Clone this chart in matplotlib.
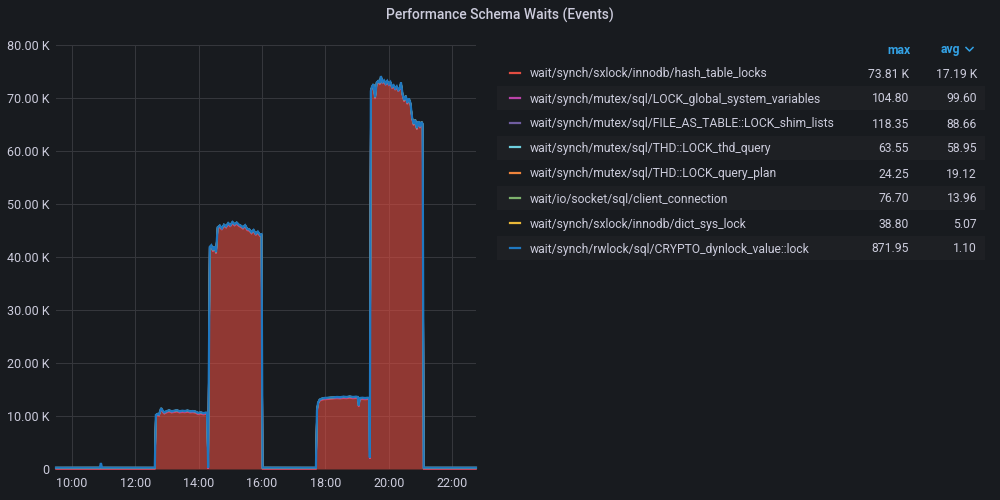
import matplotlib
matplotlib.use('Agg')
import matplotlib.pyplot as plt
import matplotlib.dates as mdates
from matplotlib.ticker import FuncFormatter, MultipleLocator
from matplotlib.lines import Line2D
from matplotlib.patches import Rectangle
import numpy as np
import pandas as pd

plt.rcParams['font.family'] = ['Roboto', 'DejaVu Sans']

# ---------------- data ----------------
times = [
    "09:30", "10:53", "10:55", "10:57", "12:37",
    "12:39", "12:42", "12:45", "12:49", "12:52", "12:55", "12:59", "13:04", "13:09", "13:14",
    "13:19", "13:24", "13:29", "13:34", "13:39", "13:44", "13:49", "13:54", "13:59", "14:04",
    "14:09", "14:14", "14:16",
    "14:18",
    "14:21", "14:24", "14:27", "14:30", "14:33", "14:36", "14:40", "14:44", "14:48", "14:52",
    "14:56", "15:00", "15:04", "15:08", "15:12", "15:16", "15:20", "15:24", "15:28", "15:32",
    "15:36", "15:40", "15:44", "15:48", "15:52", "15:56", "15:59",
    "16:01", "17:42",
    "17:44", "17:46", "17:49", "17:53", "17:58", "18:04", "18:10", "18:16", "18:22", "18:28",
    "18:34", "18:40", "18:46", "18:52", "18:58", "19:01", "19:03", "19:05", "19:10", "19:15",
    "19:20", "19:23",
    "19:24",
    "19:26", "19:28", "19:31", "19:34", "19:37", "19:40", "19:43", "19:45", "19:48", "19:51",
    "19:54", "19:57", "20:00", "20:03", "20:06", "20:09", "20:12", "20:15", "20:18", "20:21",
    "20:23", "20:26", "20:29", "20:32", "20:35", "20:38", "20:41", "20:44", "20:47", "20:50",
    "20:53", "20:56", "20:59", "21:02", "21:04",
    "21:06", "22:45",
]

hash_table_locks = (
    [0, 0, 0, 0, 0]
    + [9900, 10100, 10000, 11200, 10700, 10400, 10600, 10800, 10600, 10700,
       10800, 10600, 10700, 10650, 10750, 10600, 10650, 10550, 10300, 10400,
       10250, 10350, 10300]
    + [0]
    + [41500, 41900, 41000, 41700, 40600, 45300, 45600, 45100, 45800, 45500,
       46100, 45700, 46300, 45900, 46200, 45800, 45600, 45300, 45700, 45000,
       44900, 44400, 44800, 44100, 44500, 43900, 44000]
    + [0, 0]
    + [10800, 12200, 12800, 13000, 13100, 13150, 13200, 13250, 13300, 13250,
       13350, 13300, 13400, 13300, 13350, 13300, 11700, 13100, 13150, 13100,
       13150, 13100]
    + [1900]
    + [71000, 71800, 72300, 69800, 72600, 72900, 72500, 73810, 72700, 73000,
       72400, 72900, 72300, 72700, 71800, 72100, 71500, 71900, 71200, 71600,
       72600, 70400, 69300, 70100, 68800, 69600, 68700, 66000, 64800, 65600,
       64000, 65300, 64300, 65200, 64800]
    + [0, 0]
)

lock_global_system_variables = (
    [99, 100, 99, 100, 99]
    + [100, 101, 99, 100, 102, 99, 100, 101, 99, 100, 100, 101, 99, 100, 102,
       100, 99, 101, 100, 99, 100, 101, 100]
    + [99]
    + [100, 101, 99, 102, 100, 101, 99, 100, 102, 101, 100, 104.8, 100, 99, 101,
       100, 102, 99, 100, 101, 100, 99, 101, 100, 100, 99, 100]
    + [99, 98]
    + [99, 100, 101, 99, 100, 100, 101, 99, 100, 102, 100, 99, 101, 100, 99,
       100, 101, 100, 99, 100, 101, 100]
    + [99]
    + [100, 101, 99, 102, 100, 101, 103, 100, 99, 101, 100, 102, 100, 99, 101,
       100, 102, 100, 99, 101, 100, 100, 99, 101, 100, 102, 100, 99, 101, 100,
       100, 99, 101, 100, 100]
    + [99, 99]
)

lock_shim_lists = (
    [80, 82, 81, 80, 79]
    + [90, 92, 88, 91, 89, 93, 90, 88, 91, 92, 89, 90, 94, 88, 91, 90, 89, 92,
       90, 88, 91, 90, 89]
    + [85]
    + [95, 97, 94, 96, 98, 95, 118.35, 96, 94, 97, 95, 99, 96, 94, 97, 95, 96,
       98, 94, 95, 97, 96, 94, 95, 97, 96, 95]
    + [84, 80]
    + [88, 90, 87, 89, 91, 88, 90, 87, 89, 92, 88, 90, 89, 87, 91, 89, 88, 90,
       89, 87, 90, 88]
    + [84]
    + [96, 98, 95, 97, 99, 96, 98, 95, 97, 100, 96, 98, 95, 97, 99, 96, 98, 95,
       97, 96, 99, 95, 97, 98, 96, 95, 97, 99, 96, 98, 95, 97, 96, 98, 95]
    + [82, 80]
)

lock_thd_query = (
    [57, 58, 57, 58, 57]
    + [59, 60, 58, 59, 61, 59, 60, 58, 59, 60, 59, 61, 58, 59, 60, 59, 58, 60,
       59, 61, 59, 58, 60]
    + [58]
    + [60, 61, 59, 62, 60, 61, 63.55, 60, 59, 61, 60, 62, 60, 59, 61, 60, 62, 59,
       60, 61, 60, 59, 61, 60, 62, 60, 59]
    + [58, 57]
    + [59, 60, 58, 59, 61, 59, 60, 58, 59, 60, 61, 59, 58, 60, 59, 60, 58, 59,
       61, 59, 60, 59]
    + [58]
    + [60, 61, 59, 62, 60, 61, 63, 60, 59, 61, 60, 62, 60, 59, 61, 60, 62, 60,
       59, 61, 60, 60, 59, 61, 60, 62, 60, 59, 61, 60, 60, 59, 61, 60, 60]
    + [57, 57]
)

lock_query_plan = (
    [17, 18, 17, 18, 17]
    + [19, 20, 18, 19, 21, 19, 20, 18, 19, 20, 19, 21, 18, 19, 20, 19, 18, 20,
       19, 21, 19, 18, 20]
    + [18]
    + [20, 21, 19, 22, 20, 21, 24.25, 20, 19, 21, 20, 22, 20, 19, 21, 20, 22, 19,
       20, 21, 20, 19, 21, 20, 22, 20, 19]
    + [18, 17]
    + [19, 20, 18, 19, 21, 19, 20, 18, 19, 20, 21, 19, 18, 20, 19, 20, 18, 19,
       21, 19, 20, 19]
    + [18]
    + [20, 21, 19, 22, 20, 21, 23, 20, 19, 21, 20, 22, 20, 19, 21, 20, 22, 20,
       19, 21, 20, 20, 19, 21, 20, 22, 20, 19, 21, 20, 20, 19, 21, 20, 20]
    + [17, 17]
)

client_connection = (
    [2, 3, 2, 3, 2]
    + [18, 22, 20, 19, 23, 21, 20, 22, 19, 21, 20, 23, 21, 19, 22, 20, 21, 19,
       22, 20, 21, 19, 20]
    + [6]
    + [76.7, 24, 22, 25, 23, 24, 26, 22, 25, 23, 24, 22, 25, 23, 24, 26, 22, 24,
       23, 25, 22, 24, 23, 25, 22, 24, 23]
    + [5, 2]
    + [20, 19, 21, 20, 22, 19, 21, 20, 19, 22, 20, 21, 19, 20, 22, 21, 19, 20,
       21, 20, 19, 21]
    + [6]
    + [30, 28, 31, 29, 27, 30, 28, 32, 29, 27, 30, 28, 31, 29, 27, 30, 28, 29,
       31, 27, 30, 28, 29, 31, 28, 27, 30, 29, 28, 31, 29, 27, 30, 28, 29]
    + [3, 2]
)

dict_sys_lock = (
    [1, 1, 1, 1, 1]
    + [6, 7, 5, 6, 8, 6, 7, 5, 6, 7, 6, 8, 5, 6, 7, 6, 5, 7, 6, 8, 6, 5, 7]
    + [2]
    + [38.8, 9, 8, 10, 9, 8, 9, 10, 8, 9, 8, 10, 9, 8, 9, 10, 8, 9, 8, 10, 9, 8,
       9, 10, 8, 9, 8]
    + [2, 1]
    + [6, 7, 5, 6, 8, 6, 7, 5, 6, 7, 8, 6, 5, 7, 6, 7, 5, 6, 8, 6, 7, 6]
    + [2]
    + [11, 10, 12, 11, 10, 12, 11, 13, 10, 11, 12, 10, 11, 12, 10, 11, 13, 10,
       11, 12, 10, 11, 12, 10, 11, 13, 10, 11, 12, 10, 11, 12, 10, 11, 12]
    + [1, 1]
)

crypto_dynlock_value = (
    [0, 0, 871.95, 0, 0]
    + [0, 0, 0, 0, 0, 0, 0, 0, 0, 0, 0, 0, 0, 0, 0, 0, 0, 0, 0, 0, 0, 0, 0]
    + [0]
    + [0, 0, 0, 0, 0, 0, 0, 0, 0, 0, 0, 0, 0, 0, 0, 0, 0, 0, 0, 0, 0, 0, 0, 0,
       0, 0, 0]
    + [0, 0]
    + [0, 0, 0, 0, 0, 0, 0, 0, 0, 0, 0, 0, 0, 0, 0, 0, 0, 0, 0, 0, 0, 0]
    + [0]
    + [0, 0, 0, 0, 0, 0, 0, 0, 0, 0, 0, 0, 0, 0, 0, 0, 0, 0, 0, 0, 0, 0, 0, 0,
       0, 0, 0, 0, 0, 0, 0, 0, 0, 0, 0]
    + [0, 0]
)

series_names = [
    "wait/synch/sxlock/innodb/hash_table_locks",
    "wait/synch/mutex/sql/LOCK_global_system_variables",
    "wait/synch/mutex/sql/FILE_AS_TABLE::LOCK_shim_lists",
    "wait/synch/mutex/sql/THD::LOCK_thd_query",
    "wait/synch/mutex/sql/THD::LOCK_query_plan",
    "wait/io/socket/sql/client_connection",
    "wait/synch/sxlock/innodb/dict_sys_lock",
    "wait/synch/rwlock/sql/CRYPTO_dynlock_value::lock",
]
series_values = [
    hash_table_locks, lock_global_system_variables, lock_shim_lists,
    lock_thd_query, lock_query_plan, client_connection, dict_sys_lock,
    crypto_dynlock_value,
]
series_colors = ["#E24D42", "#BA43A9", "#705DA0", "#6ED0E0",
                 "#EF843C", "#7EB26D", "#EAB839", "#1F78C1"]
legend_max = ["73.81 K", "104.80", "118.35", "63.55", "24.25", "76.70", "38.80", "871.95"]
legend_avg = ["17.19 K", "99.60", "88.66", "58.95", "19.12", "13.96", "5.07", "1.10"]

x_start, x_end = "09:30", "22:45"
y_max = 80000
title = "Performance Schema Waits (Events)"

# ---------------- drawing ----------------
BG = "#181b1f"
TXT = "#ccccdc"
W, H = 1000, 500
FS = 8.7

def tnum(s):
    return mdates.date2num(pd.Timestamp("2021-06-01 " + s).to_pydatetime())

x = np.array([tnum(s) for s in times])
data = np.array(series_values, dtype=float)
cum = np.cumsum(data, axis=0)

fig = plt.figure(figsize=(W / 100, H / 100), dpi=100, facecolor=BG)
ax = fig.add_axes([56 / W, 1 - 469 / H, 420 / W, 424 / H])
ax.set_facecolor(BG)
ax.set_axisbelow(True)

for i, c in enumerate(series_colors):
    lower = cum[i - 1] if i > 0 else np.zeros_like(cum[0])
    ax.fill_between(x, lower, cum[i], color=c, alpha=0.6, linewidth=0, zorder=2)
n = len(series_colors)
for i, c in enumerate(series_colors):
    ax.plot(x, cum[i], color=c, lw=1.6 if i == n - 1 else 1.1, zorder=3 + i,
            clip_on=False, solid_joinstyle='miter')

ax.set_xlim(tnum(x_start), tnum(x_end))
ax.set_ylim(0, y_max)
ax.yaxis.set_major_locator(MultipleLocator(10000))
ax.yaxis.set_major_formatter(FuncFormatter(
    lambda v, p: "0" if v == 0 else f"{v / 1000:.2f} K"))
ax.xaxis.set_major_locator(mdates.HourLocator(byhour=range(0, 24, 2)))
ax.xaxis.set_major_formatter(mdates.DateFormatter("%H:%M"))
ax.grid(True, color="#35373c", lw=0.75)
for sp in ax.spines.values():
    sp.set_visible(False)
ax.tick_params(axis='both', length=0, colors=TXT, labelsize=9)
ax.tick_params(axis='y', pad=4.5)
ax.tick_params(axis='x', pad=6)

def fx(px):
    return px / W

def fy(py):
    return 1 - py / H

fig.text(0.5, fy(15), title, ha='center', va='center', color=TXT,
         fontsize=10, fontweight='medium')

# legend table
HDR = "#33a2e5"
fig.text(fx(910), fy(53.5), "max", ha='right', va='baseline', color=HDR,
         fontsize=FS, fontweight='bold')
fig.text(fx(960), fy(53.5), "avg", ha='right', va='baseline', color=HDR,
         fontsize=FS, fontweight='bold')
fig.add_artist(Line2D([fx(966), fx(969.5), fx(973)], [fy(47.5), fy(51), fy(47.5)],
                      color=HDR, lw=1.1, transform=fig.transFigure))

for i, (name, c, mx, av) in enumerate(zip(series_names, series_colors,
                                            legend_max, legend_avg)):
    cy = 73 + 25 * i
    if i % 2 == 1:
        fig.add_artist(Rectangle((fx(497), fy(cy + 12)), fx(985) - fx(497),
                                 24 / H, transform=fig.transFigure,
                                 facecolor="#1e2024", edgecolor='none', zorder=0))
    fig.add_artist(Line2D([fx(510), fx(520)], [fy(cy - 0.5), fy(cy - 0.5)], color=c,
                          lw=1.6, transform=fig.transFigure))
    by = fy(cy + 4.5)
    fig.text(fx(530), by, name, ha='left', va='baseline', color=TXT, fontsize=FS)
    fig.text(fx(909), by, mx, ha='right', va='baseline', color=TXT, fontsize=FS)
    fig.text(fx(977), by, av, ha='right', va='baseline', color=TXT, fontsize=FS)

fig.savefig("out.png", dpi=100, facecolor=BG)
